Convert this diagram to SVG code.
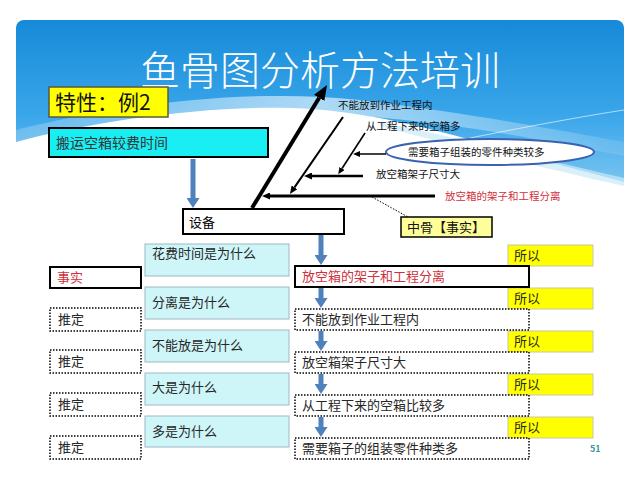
<svg xmlns="http://www.w3.org/2000/svg" width="640" height="480" viewBox="0 0 640 480">
<defs>
<linearGradient id="sky" x1="0" y1="0" x2="0" y2="1">
<stop offset="0" stop-color="#168ad8"/>
<stop offset="0.5" stop-color="#3aa6ea"/>
<stop offset="1" stop-color="#8fd0f2"/>
</linearGradient>
<linearGradient id="fade" x1="0" y1="0" x2="1" y2="0">
<stop offset="0" stop-color="#fff" stop-opacity="0.2"/>
<stop offset="0.5" stop-color="#fff" stop-opacity="0.6"/>
<stop offset="1" stop-color="#fff" stop-opacity="0.1"/>
</linearGradient>
<marker id="bl" markerUnits="userSpaceOnUse" markerWidth="10" markerHeight="13" refX="0" refY="6.5" orient="auto"><path d="M0,0 L10,6.5 L0,13 Z" fill="#4f81bd"/></marker>
<marker id="big" markerUnits="userSpaceOnUse" markerWidth="15" markerHeight="12" refX="0" refY="6" orient="auto"><path d="M0,0 L15,6 L0,12 Z" fill="#000"/></marker>
<marker id="sm" markerUnits="userSpaceOnUse" markerWidth="8" markerHeight="7" refX="0" refY="3.5" orient="auto"><path d="M0,0 L8,3.5 L0,7 Z" fill="#000"/></marker>
<marker id="xs" markerUnits="userSpaceOnUse" markerWidth="7" markerHeight="6" refX="0" refY="3" orient="auto"><path d="M0,0 L7,3 L0,6 Z" fill="#000"/></marker>
</defs>
<style>
text{font-family:"Noto Sans CJK SC","Noto Sans",sans-serif;}
.t13{font-size:13px;fill:#262626;}
.red{fill:#d0303c;}
.lbl{font-size:10.5px;fill:#111;}
.solid{fill:#fff;stroke:#000;stroke-width:2;}
.dot{fill:#fff;stroke:#000;stroke-width:1.5;stroke-dasharray:1.5 1.5;}
.q{fill:#cef6f9;stroke:#9fb8c4;stroke-width:1;}
.so{fill:#ffff00;stroke:#c8c8a0;stroke-width:1;}
.ba{stroke:#4f81bd;stroke-width:5;fill:none;marker-end:url(#bl);}
.bone{stroke:#000;fill:none;}
</style>
<rect width="640" height="480" fill="#fff"/>
<g id="background">
<rect x="16" y="20" width="608" height="190" rx="8" fill="url(#sky)"/>
<path d="M16,130 C120,104 250,88 360,100 C460,112 560,130 624,142 L624,156 C560,144 470,124 360,116 C250,108 120,118 16,142 Z" fill="url(#fade)"/>
<path d="M470,138 C530,126 585,116 624,110" stroke="#fff" stroke-width="1" opacity="0.6" fill="none"/>
<path d="M16,142 C90,122 200,106 290,108 C380,110 470,140 560,165 C590,173 610,178 624,182 L624,215 L16,215 Z" fill="#fff"/>
<path d="M380,122 C470,140 560,164 624,178 L624,186 C560,172 470,150 380,126 Z" fill="#c9e9f8" opacity="0.7"/>
</g>
<text x="320" y="85" text-anchor="middle" font-size="40" font-weight="300" fill="#fff">鱼骨图分析方法培训</text>
<g id="n-tokusei"><rect x="49" y="87" width="119" height="30" fill="#ffff00" stroke="#5a5a3a" stroke-width="1.5"/><text x="55" y="110" font-size="21" fill="#111">特性：例2</text></g>
<g id="n-problem"><rect x="49" y="128" width="219" height="29" fill="#19eef2" stroke="#000" stroke-width="2"/><text x="56" y="148" font-size="14" fill="#333">搬运空箱较费时间</text></g>
<g id="n-equip"><rect x="183" y="209" width="161" height="25" class="solid"/><text x="189" y="227" font-size="13" fill="#000">设备</text></g>
<g id="n-ellipse"><ellipse cx="490" cy="152" rx="104" ry="13" fill="#fff" stroke="#3a62ad" stroke-width="2"/><text x="408" y="156" class="lbl">需要箱子组装的零件种类较多</text></g>
<g id="n-midbone"><rect x="401" y="217" width="91" height="20" fill="#ffff99" stroke="#000" stroke-width="1.5"/><text x="407" y="232" font-size="13" fill="#111">中骨【事实】</text></g>
<g id="fishbone-labels">
<text x="338" y="109" class="lbl">不能放到作业工程内</text>
<text x="366" y="130" class="lbl">从工程下来的空箱多</text>
<text x="376" y="178" class="lbl">放空箱架子尺寸大</text>
<text x="445" y="200" class="lbl" style="fill:#d0303c">放空箱的架子和工程分离</text>
</g>
<g id="left-col">
<g id="n-fact"><rect x="50" y="267" width="91" height="21" class="solid"/><text x="57" y="282" class="t13 red">事实</text></g>
<g id="n-est1"><rect x="50" y="308" width="91" height="23" class="dot"/><text x="58" y="324" class="t13">推定</text></g>
<g id="n-est2"><rect x="50" y="350" width="91" height="23" class="dot"/><text x="58" y="366" class="t13">推定</text></g>
<g id="n-est3"><rect x="50" y="393" width="91" height="23" class="dot"/><text x="58" y="409" class="t13">推定</text></g>
<g id="n-est4"><rect x="50" y="436" width="91" height="23" class="dot"/><text x="58" y="452" class="t13">推定</text></g>
</g>
<g id="questions">
<g id="n-q1"><rect x="145" y="244" width="144" height="32" class="q"/><text x="152" y="258" class="t13">花费时间是为什么</text></g>
<g id="n-q2"><rect x="145" y="287" width="144" height="32" class="q"/><text x="152" y="307" class="t13">分离是为什么</text></g>
<g id="n-q3"><rect x="145" y="330" width="144" height="32" class="q"/><text x="152" y="350" class="t13">不能放是为什么</text></g>
<g id="n-q4"><rect x="145" y="373" width="144" height="32" class="q"/><text x="152" y="392" class="t13">大是为什么</text></g>
<g id="n-q5"><rect x="145" y="416" width="144" height="31" class="q"/><text x="152" y="436" class="t13">多是为什么</text></g>
</g>
<g id="so">
<g id="n-so1"><rect x="508" y="245" width="85" height="21" class="so"/><text x="514" y="260" class="t13">所以</text></g>
<g id="n-so2"><rect x="508" y="288" width="85" height="21" class="so"/><text x="514" y="303" class="t13">所以</text></g>
<g id="n-so3"><rect x="508" y="331" width="85" height="21" class="so"/><text x="514" y="346" class="t13">所以</text></g>
<g id="n-so4"><rect x="508" y="374" width="85" height="21" class="so"/><text x="514" y="389" class="t13">所以</text></g>
<g id="n-so5"><rect x="508" y="417" width="85" height="21" class="so"/><text x="514" y="432" class="t13">所以</text></g>
</g>
<g id="chain">
<g id="n-c1"><rect x="295" y="266" width="234" height="21" class="solid"/><text x="302" y="281" class="t13 red">放空箱的架子和工程分离</text></g>
<g id="n-c2"><rect x="295" y="309" width="234" height="21" class="dot"/><text x="302" y="324" class="t13">不能放到作业工程内</text></g>
<g id="n-c3"><rect x="295" y="352" width="234" height="21" class="dot"/><text x="302" y="367" class="t13">放空箱架子尺寸大</text></g>
<g id="n-c4"><rect x="295" y="395" width="234" height="21" class="dot"/><text x="302" y="410" class="t13">从工程下来的空箱比较多</text></g>
<g id="n-c5"><rect x="295" y="438" width="234" height="21" class="dot"/><text x="302" y="453" class="t13">需要箱子的组装零件种类多</text></g>
</g>
<g id="connectors">
<line x1="193" y1="159" x2="193" y2="198" class="ba"/>
<line x1="321" y1="235" x2="321" y2="255" class="ba"/>
<line x1="321" y1="288" x2="321" y2="298" class="ba"/>
<line x1="321" y1="331" x2="321" y2="341" class="ba"/>
<line x1="321" y1="374" x2="321" y2="384" class="ba"/>
<line x1="321" y1="417" x2="321" y2="427" class="ba"/>
<line x1="252" y1="208" x2="319.2" y2="97.8" class="bone" stroke-width="4" marker-end="url(#big)"/>
<line x1="435" y1="196" x2="270" y2="196" class="bone" stroke-width="3" marker-end="url(#sm)"/>
<line x1="343" y1="117" x2="294.5" y2="187.4" class="bone" stroke-width="2" marker-end="url(#sm)"/>
<line x1="363" y1="176" x2="312" y2="176" class="bone" stroke-width="2.5" marker-end="url(#sm)"/>
<line x1="365" y1="133" x2="342" y2="168.5" class="bone" stroke-width="1.6" marker-end="url(#xs)"/>
<line x1="386" y1="154" x2="360" y2="154" class="bone" stroke-width="1.5" marker-end="url(#xs)"/>
<line x1="372" y1="197" x2="408" y2="217" stroke="#000" stroke-width="1" stroke-dasharray="1.5 1.5"/>
</g>
<text x="590" y="452" font-size="9" font-weight="bold" fill="#3a9a9a">51</text>
</svg>
